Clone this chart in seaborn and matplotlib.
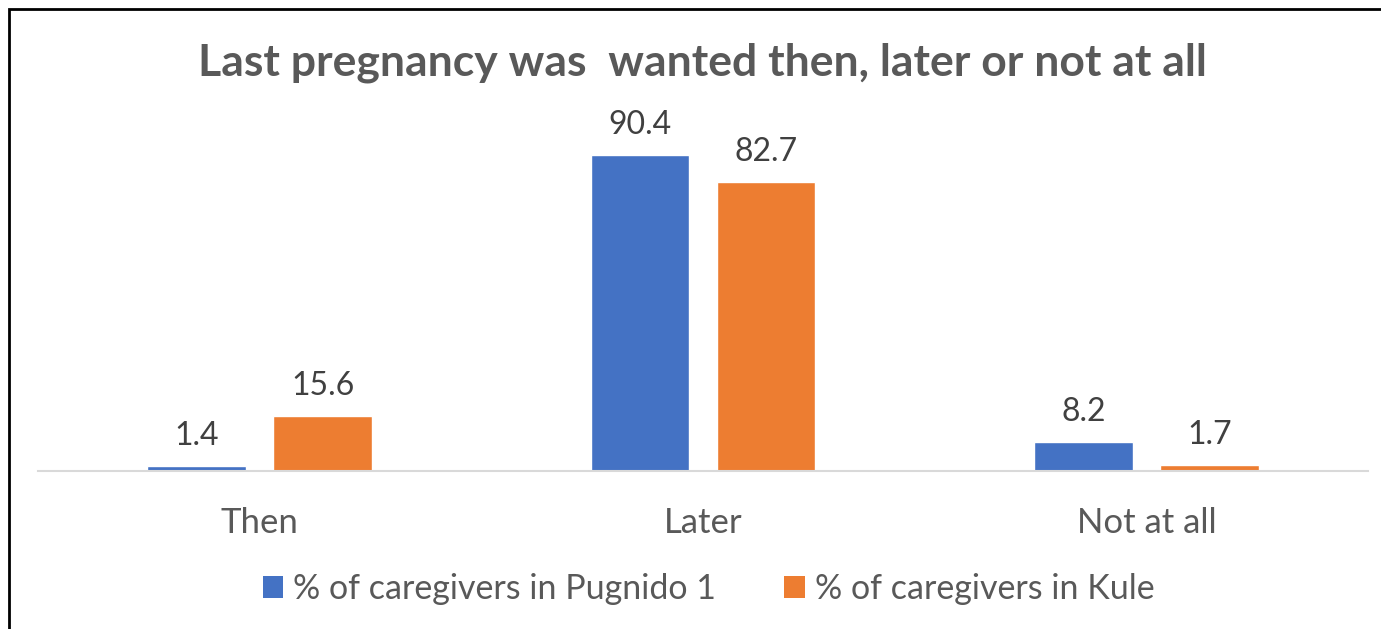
import matplotlib
matplotlib.use("Agg")
import matplotlib.pyplot as plt
import seaborn as sns
import pandas as pd
from matplotlib.patches import Rectangle, Patch

categories = ["Then", "Later", "Not at all"]
series_names = ["% of caregivers in Pugnido 1", "% of caregivers in Kule"]
pugnido = [1.4, 90.4, 8.2]
kule = [15.6, 82.7, 1.7]
colors = ["#4472C4", "#ED7D31"]
title = "Last pregnancy was  wanted then, later or not at all"

df = pd.DataFrame({
    "category": categories * 2,
    "series": [series_names[0]] * 3 + [series_names[1]] * 3,
    "value": pugnido + kule,
})

sns.set_theme(style="white")
plt.rcParams["font.family"] = ["Lato", "DejaVu Sans"]

fig = plt.figure(figsize=(13.81, 6.29), dpi=100)
ax = fig.add_axes([0.0275, 0.2512, 0.9631, 0.5558])

sns.barplot(data=df, x="category", y="value", hue="series", order=categories,
            hue_order=series_names, palette=colors, width=0.568, gap=0.215,
            saturation=1, ax=ax, legend=False)

for cont in ax.containers:
    ax.bar_label(cont, fmt="%.1f", padding=11, fontsize=23, color="#404040")

ax.set_ylim(0, 100)
ax.set_xlim(-0.5, 2.5)
ax.set_xlabel("")
ax.set_ylabel("")
ax.set_yticks([])
for s in ["top", "right", "left"]:
    ax.spines[s].set_visible(False)
ax.spines["bottom"].set_color("#D9D9D9")
ax.spines["bottom"].set_linewidth(1.5)
ax.tick_params(axis="x", length=0, pad=26, labelsize=25, labelcolor="#595959")

fig.text(0.509, 0.900, title, ha="center", va="center", fontsize=32,
         fontweight="bold", color="#595959")

handles = [Patch(facecolor=c, edgecolor="none") for c in colors]
leg = fig.legend(handles, series_names, loc="center", bbox_to_anchor=(0.513, 0.064),
                 ncol=2, frameon=False, fontsize=24.5, handlelength=0.6, handleheight=0.6,
                 handletextpad=0.3, columnspacing=2.0)
for t in leg.get_texts():
    t.set_color("#595959")

fig.patches.append(Rectangle((9 / 1381, -0.05), 1.2, 1 - 9 / 629 + 0.05,
                             transform=fig.transFigure, fill=False,
                             edgecolor="black", linewidth=2))

fig.savefig("out.png", dpi=100)
